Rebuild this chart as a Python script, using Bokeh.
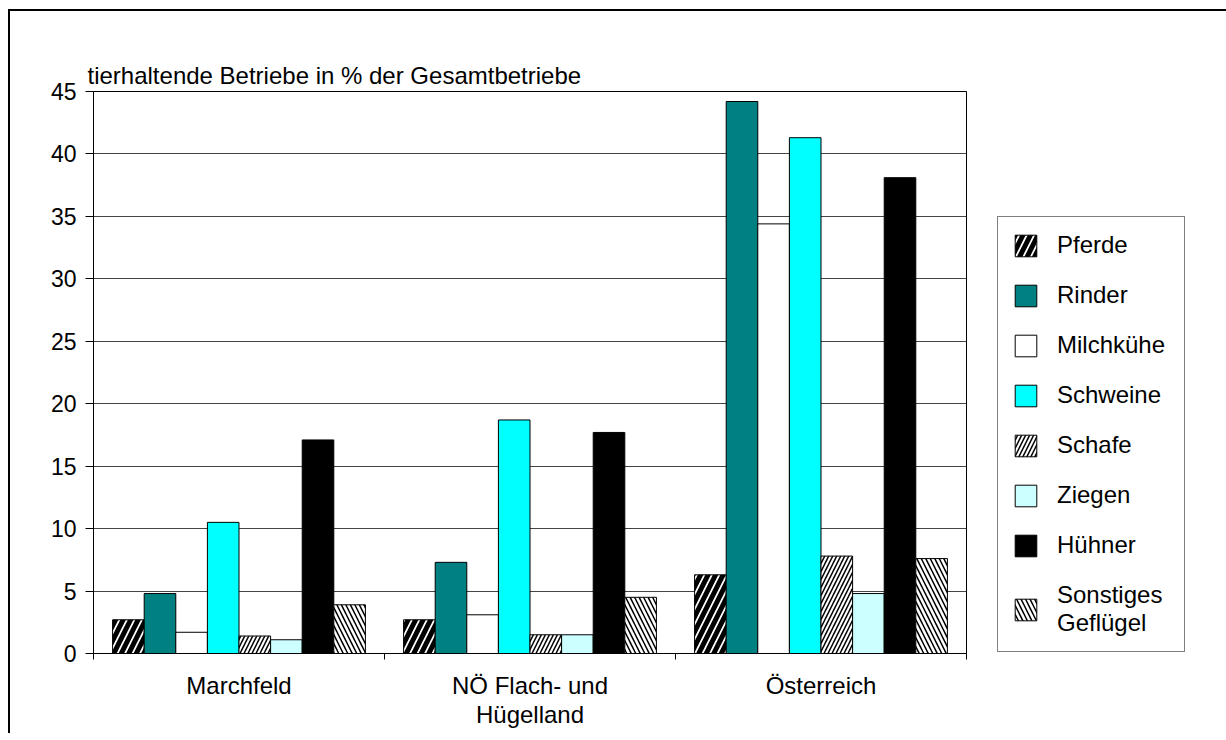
from bokeh.plotting import figure
from bokeh.models import (Range1d, FixedTicker, Legend, LegendItem, ColumnDataSource)
from bokeh.transform import dodge
from bokeh.embed import file_html
from bokeh.resources import INLINE

# ---- data ----
groups = ["Marchfeld", "NÖ Flach- und\nHügelland", "Österreich"]
group_pos = [0.5, 1.5, 2.5]
series = ["Pferde", "Rinder", "Milchkühe", "Schweine", "Schafe", "Ziegen", "Hühner", "Sonstiges\nGeflügel"]
pferde = [2.7, 2.7, 6.3]
rinder = [4.8, 7.3, 44.2]
milchkuehe = [1.7, 3.1, 34.4]
schweine = [10.5, 18.7, 41.3]
schafe = [1.4, 1.5, 7.8]
ziegen = [1.1, 1.5, 4.8]
huehner = [17.1, 17.7, 38.1]
sonstiges = [3.9, 4.5, 7.6]
y_ticks = [0, 5, 10, 15, 20, 25, 30, 35, 40, 45]
y_title = "tierhaltende Betriebe in % der Gesamtbetriebe"

values = [pferde, rinder, milchkuehe, schweine, schafe, ziegen, huehner, sonstiges]
styles = [
    dict(fill_color="white", hatch_pattern="/", hatch_color="black", hatch_weight=5, hatch_scale=15),
    dict(fill_color="#008080"),
    dict(fill_color="white"),
    dict(fill_color="#00FFFF"),
    dict(fill_color="white", hatch_pattern="/", hatch_color="black", hatch_weight=1.5, hatch_scale=8),
    dict(fill_color="#CCFFFF"),
    dict(fill_color="black"),
    dict(fill_color="white", hatch_pattern="\\", hatch_color="black", hatch_weight=1.5, hatch_scale=9),
]

FONT = "Liberation Sans"
FS = "24px"
FS_TICK = "23px"

p = figure(frame_width=873, frame_height=562, output_backend="svg", toolbar_location=None,
           x_range=Range1d(0, 3), y_range=Range1d(0, 45),
           min_border_left=83, min_border_right=250, min_border_top=80, min_border_bottom=80)
p.styles = {"margin-left": "8px", "margin-top": "9px",
            "border-top": "2px solid black", "border-left": "2px solid black"}

p.title.text = y_title
p.title.align = "left"
p.title.offset = -6
p.title.standoff = 6
p.title.text_font = FONT
p.title.text_font_size = FS
p.title.text_font_style = "normal"
p.title.text_color = "black"

p.outline_line_color = "black"
p.outline_line_width = 1
p.xgrid.visible = False
p.ygrid.grid_line_color = "#444444"
p.ygrid.grid_line_width = 1
p.ygrid.ticker = FixedTicker(ticks=y_ticks)

# y axis
p.yaxis.ticker = FixedTicker(ticks=y_ticks)
p.yaxis.major_tick_out = 8
p.yaxis.major_tick_in = 0
p.yaxis.minor_tick_out = 0
p.yaxis.minor_tick_in = 0
p.yaxis.axis_line_color = "black"
p.yaxis.major_tick_line_color = "black"
p.yaxis.major_label_text_font = FONT
p.yaxis.major_label_text_font_size = FS_TICK
p.yaxis.major_label_text_color = "black"
p.yaxis.major_label_standoff = 9

# x axis
p.xaxis.ticker = FixedTicker(ticks=group_pos, minor_ticks=[0, 1, 2, 3])
p.xaxis.major_label_overrides = {g: lab for g, lab in zip(group_pos, groups)}
p.xaxis.major_tick_out = 0
p.xaxis.major_tick_in = 0
p.xaxis.minor_tick_out = 6
p.xaxis.minor_tick_in = 0
p.xaxis.minor_tick_line_color = "black"
p.xaxis.axis_line_color = "black"
p.xaxis.major_label_text_font = FONT
p.xaxis.major_label_text_font_size = FS
p.xaxis.major_label_text_color = "black"
p.xaxis.major_label_text_line_height = 1.1
p.xaxis.major_label_standoff = 12

data = {"x": group_pos}
for i, v in enumerate(values):
    data[f"s{i}"] = v
src = ColumnDataSource(data)

bw = 0.1086
items = []
for i, (name, st) in enumerate(zip(series, styles)):
    r = p.vbar(x=dodge("x", (i - 3.5) * bw, range=p.x_range), top=f"s{i}", bottom=0,
               width=bw, source=src, line_color="black", line_width=1, **st)
    items.append(LegendItem(label=name, renderers=[r]))

legend = Legend(items=items, location=(31, 1), orientation="vertical",
                glyph_width=27, glyph_height=27, spacing=22, padding=14,
                label_standoff=18, label_width=113, label_text_font=FONT,
                label_text_font_size=FS, label_text_line_height=1.1,
                label_text_color="black",
                border_line_color="black", border_line_width=1,
                background_fill_color="white", background_fill_alpha=1, margin=0)
p.add_layout(legend, "right")

open("out.html", "w").write(file_html(p, INLINE))
